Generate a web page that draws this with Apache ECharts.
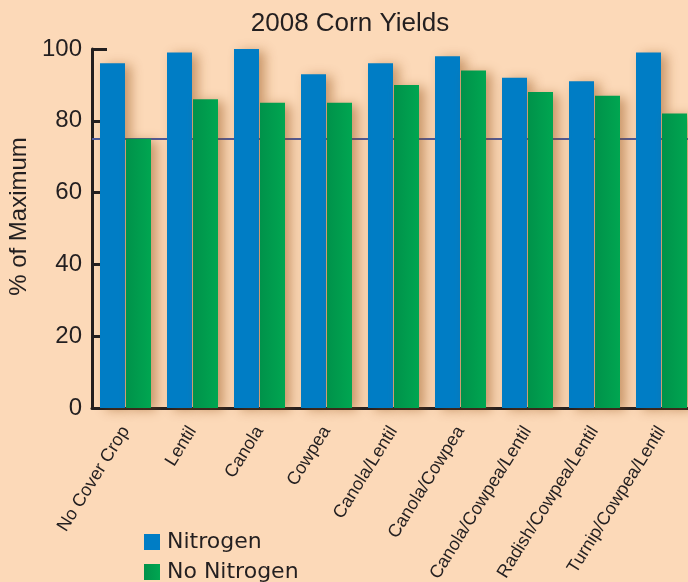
<!DOCTYPE html>
<html>
<head>
<meta charset="utf-8">
<script src="https://cdn.jsdelivr.net/npm/echarts@6/dist/echarts.min.js"></script>
<style>
html,body{margin:0;padding:0;background:#fcd9b8;}
#chart{width:688px;height:582px;}
</style>
</head>
<body>
<div id="chart"></div>
<script>
const categories = ['No Cover Crop','Lentil','Canola','Cowpea','Canola/Lentil','Canola/Cowpea','Canola/Cowpea/Lentil','Radish/Cowpea/Lentil','Turnip/Cowpea/Lentil'];
const nitrogen = [96, 99, 100, 93, 96, 98, 92, 91, 99];
const noNitrogen = [75, 86, 85, 85, 90, 94, 88, 87, 82];
const referenceLine = 75;
const yTicks = [0, 20, 40, 60, 80, 100];

const chart = echarts.init(document.getElementById('chart'), null, {renderer:'canvas'});
const font = 'Liberation Sans, Arial, sans-serif';
const legendFont = 'DejaVu Sans, sans-serif';
const shadow = {shadowBlur: 12, shadowColor: 'rgba(140,70,10,0.45)', shadowOffsetX: 6, shadowOffsetY: 2};
function grad(c1, c2){
  return new echarts.graphic.LinearGradient(0,0,1,0,[{offset:0,color:c1},{offset:1,color:c2}]);
}
const legendBase = {
  orient: 'vertical', left: 139,
  itemWidth: 16, itemHeight: 16,
  icon: 'rect',
  textStyle: {fontFamily: legendFont, fontSize: 22, color: '#231f20', padding: [0,0,0,2]}
};
chart.setOption({
  backgroundColor: '#fcd9b8',
  animation: false,
  title: {
    text: '2008 Corn Yields',
    left: 345, top: 6, textAlign: 'center',
    textStyle: {fontFamily: font, fontSize: 26, fontWeight: 'normal', color: '#231f20'}
  },
  legend: [
    Object.assign({}, legendBase, {top: 526, data: ['Nitrogen']}),
    Object.assign({}, legendBase, {top: 556, data: ['No Nitrogen']})
  ],
  grid: {left: 92, top: 49, width: 603, height: 359, containLabel: false, outerBoundsMode: 'none'},
  xAxis: {
    type: 'category', data: categories,
    axisLine: {lineStyle: {color: '#231f20', width: 3}},
    axisTick: {inside: true, length: 6, lineStyle: {color: '#231f20', width: 2}},
    axisLabel: {rotate: 58, interval: 0, fontFamily: font, fontSize: 18, color: '#231f20', margin: 20}
  },
  yAxis: {
    type: 'value', min: yTicks[0], max: yTicks[yTicks.length-1], interval: 20,
    name: '% of Maximum', nameLocation: 'middle', nameGap: 58,
    nameTextStyle: {fontFamily: font, fontSize: 24, color: '#231f20', padding: [0,0,0,24]},
    splitLine: {show: false},
    axisLine: {show: true, lineStyle: {color: '#231f20', width: 3}},
    axisTick: {show: true, inside: true, length: 15, lineStyle: {color: '#231f20', width: 3}},
    axisLabel: {fontFamily: font, fontSize: 24, color: '#231f20', margin: 10}
  },
  series: [
    {
      name: 'Nitrogen', type: 'bar', data: nitrogen, barWidth: 25, barGap: '4%',
      itemStyle: Object.assign({color: '#007dc5'}, shadow),
      markLine: {
        silent: true, symbol: 'none', z: 1, label: {show: false},
        lineStyle: {color: '#4d5a9c', width: 2, type: 'solid'},
        data: [{yAxis: referenceLine}]
      }
    },
    {
      name: 'No Nitrogen', type: 'bar', data: noNitrogen, barWidth: 25,
      itemStyle: Object.assign({color: grad('#00924a','#00a651')}, shadow)
    }
  ]
});
</script>
</body>
</html>
